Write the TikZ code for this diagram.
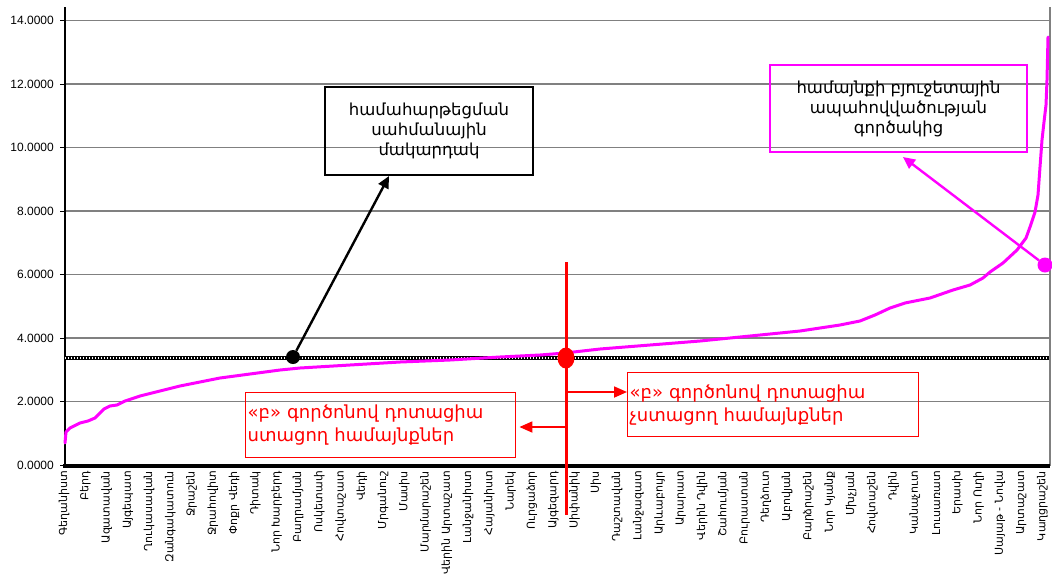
\documentclass[tikz,border=0pt]{standalone}
\usepackage{fontspec}
\setmainfont{DejaVu Sans}
\newfontfamily\numfont{Liberation Sans}
\usetikzlibrary{arrows.meta,shapes.geometric}
\definecolor{mag}{RGB}{255,0,255}
\definecolor{redc}{RGB}{255,0,0}
\begin{document}
\begin{tikzpicture}[x=1pt,y=-1pt,
  gridline/.style={draw=black!50, line width=1.3pt},
  ylab/.style={anchor=east, font=\numfont\fontsize{12}{12}\selectfont, inner sep=0pt},
  xlab/.style={rotate=90, anchor=east, font=\fontsize{11}{11}\selectfont, inner sep=0pt},
  datacurve/.style={draw=mag, line width=3pt, line join=round, line cap=round},
  callout/.style={draw, line width=1.4pt, align=center, inner sep=0pt, font=\fontsize{16.5}{20}\selectfont},
  redbox/.style={draw=redc, line width=1.4pt, text=redc, align=left, inner sep=0pt, anchor=north west, font=\fontsize{18}{23}\selectfont},
  blackarrow/.style={draw=black, line width=2.4pt, -{Triangle[length=12pt,width=11pt]}},
  magarrow/.style={draw=mag, line width=2.4pt, -{Triangle[length=12pt,width=11pt]}},
  redarrow/.style={draw=redc, line width=1.8pt, -{Triangle[length=13pt,width=11pt]}}
]
\useasboundingbox (0,0) rectangle (1052,582);
\fill[white] (0,0) rectangle (1052,582);

% grid
\foreach \v/\lab in {0/0.0000,2/2.0000,4/4.0000,6/6.0000,8/8.0000,10/10.0000,12/12.0000,14/14.0000}{
  \pgfmathsetmacro{\yy}{465-31.75*\v}
  \ifnum\v>0 \draw[gridline] (65,\yy) -- (1050,\yy); \fi
  \draw[black, line width=1pt] (60,\yy) -- (65,\yy);
  \node[ylab] (y\v) at (54,\yy) {\lab};
}
\draw[black!50, line width=1.3pt] (1050,7) -- (1050,466);
\draw[black, line width=1.2pt] (65,7) -- (65,466);

% threshold line (chain of small circles)
\draw[black, line width=3.6pt] (65,358) -- (1049,358);
\draw[white, line width=1.3pt, dash pattern=on 1.3pt off 1.7pt] (65,358) -- (1049,358);

% data curve
\draw[datacurve] plot coordinates {(65,443) (66,432) (70,428) (74,426) (80,423) (88,421) (95,418) (100,413) (104,409) (110,406) (117,405) (125,401) (140,396) (160,391) (180,386) (200,382) (220,378) (250,374) (280,370) (300,368) (350,365) (400,362) (450,360) (500,357) (540,355) (565,353) (600,349) (650,345) (700,341) (750,336) (800,331) (840,325) (860,321) (875,315) (890,308) (905,303) (930,298) (953,290) (970,285) (983,278) (990,272) (1003,263) (1017,250) (1026,238) (1030,227) (1035,212) (1038,195) (1040,167) (1042,140) (1044,122) (1046,105) (1047,80) (1048,37)};

% x axis
\draw[black, line width=3.8pt] (63,466) -- (1050,466);

% category labels
\foreach \i/\name in {
0/Գեղանիստ,1/Բերդ,2/Ազատավան,3/Այգեպատ,4/Ղուկասավան,5/Զանգակատուն,6/Ջրաշեն,7/Ջրահովիտ,8/Փոքր Վեդի,9/Դիտակ,
10/Նոր Խարբերդ,11/Բաղրամյան,12/Ոսկետափ,13/Հովտաշատ,14/Վեդի,15/Մրգանուշ,16/Մասիս,17/Մարմարաշեն,18/Վերին Արտաշատ,19/Լանջանիստ,
20/Հայանիստ,21/Նարեկ,22/Ուրցաձոր,23/Այգեզարդ,24/Սիփանիկ,25/Սիս,26/Դաշտավան,27/Լանջազատ,28/Արևաբույր,29/Արարատ,
30/Վերին Դվին,31/Շահումյան,32/Բուրաստան,33/Դեղձուտ,34/Աբովյան,35/Բարձրաշեն,36/Նոր Կյանք,37/Մխչյան,38/Հովտաշեն,39/Դվին,
40/Կանաչուտ,41/Լուսառատ,42/Երասխ,43/Նոր Ուղի,44/Սայաթ - Նովա,45/Արտաշատ,46/Կաղցրաշեն}{
  \pgfmathsetmacro{\xx}{64+21.27*\i}
  \node[xlab] (c\i) at (\xx,471) {\name};
}

% callout boxes
\node[callout, draw=black, minimum width=208pt, minimum height=88pt] (threshbox) at (429,131)
  {համահարթեցման\\սահմանային\\մակարդակ};
\node[callout, draw=mag, minimum width=257pt, minimum height=87pt] (coefbox) at (898.5,108.5)
  {համայնքի բյուջետային\\ապահովվածության\\գործակից};

% red boxes
\node[redbox, minimum width=270pt, minimum height=65pt, text width=268pt] (getbox) at (245,392)
  {\hspace*{1pt}«բ» գործոնով դոտացիա\\\hspace*{1pt}ստացող համայնքներ};
\node[redbox, minimum width=291pt, minimum height=64pt, text width=289pt] (nogetbox) at (627,372)
  {\hspace*{1pt}«բ» գործոնով դոտացիա\\\hspace*{1pt}չստացող համայնքներ};

% markers
\node[circle, fill=black, minimum size=14pt, inner sep=0pt] (bdot) at (293,357) {};
\node[circle, fill=mag, minimum size=15pt, inner sep=0pt] (mdot) at (1045,265) {};
\coordinate (rtop) at (566,262);
\coordinate (rbot) at (566,515);
\draw[redc, line width=3pt] (rtop) -- (rbot);
\node[ellipse, fill=redc, minimum width=17pt, minimum height=21pt, inner sep=0pt] (rdot) at (566,358) {};

% connectors
\coordinate (btip) at (389,176);
\coordinate (mtip) at (903,157);
\draw[blackarrow] (bdot) -- (btip);
\draw[magarrow] (mdot) -- (mtip);
\coordinate (rsplitA) at (566,392);
\coordinate (rsplitB) at (566,427);
\draw[redarrow] (rsplitA) -- (nogetbox.west |- rsplitA);
\draw[redarrow] (rsplitB) -- ([xshift=3pt]getbox.east |- rsplitB);
\end{tikzpicture}
\end{document}
